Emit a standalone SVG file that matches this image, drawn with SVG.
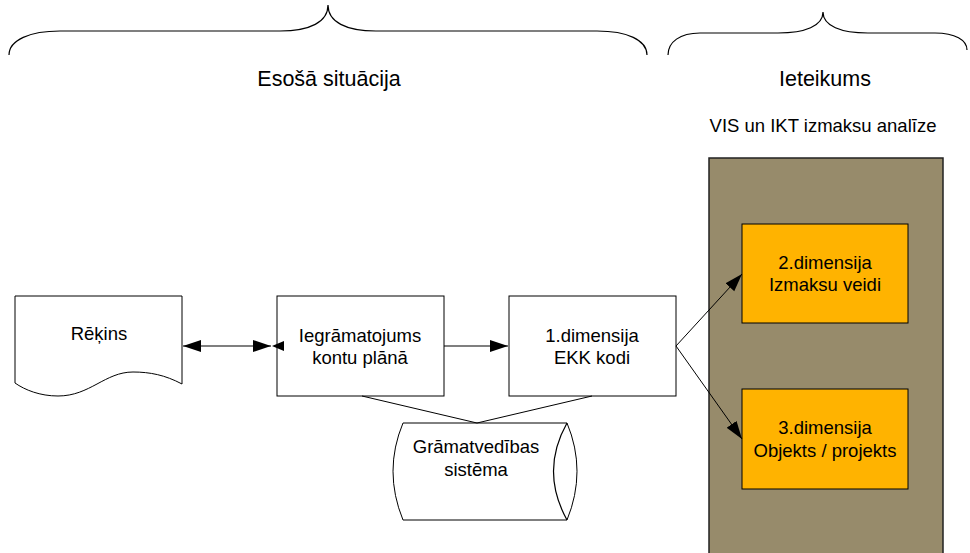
<svg xmlns="http://www.w3.org/2000/svg" width="970" height="553" viewBox="0 0 970 553">
<style>
text{font-family:"Liberation Sans",Arial,sans-serif;fill:#000;text-anchor:middle}
.t{font-size:21.5px}
.s{font-size:18.5px}
.n{font-size:18.5px}
.ln{fill:none;stroke:#000;stroke-width:1.2}
.box{fill:#fff;stroke:#000;stroke-width:1}
.org{fill:#FFB300;stroke:#000;stroke-width:1}
</style>
<defs>
<marker id="ah" markerUnits="userSpaceOnUse" markerWidth="20" markerHeight="14" refX="18" refY="6" orient="auto-start-reverse" viewBox="0 0 20 14">
<path d="M0,0 L18,6 L0,12 Z" fill="#000"/>
</marker>
</defs>
<rect width="970" height="553" fill="#fff"/>
<g id="brace-left">
<path class="ln" d="M9,55 C9,40 30,31 60,31 L280,31 C310,31 328,22 328,5 C328,22 346,31 376,31 L597,31 C627,31 647,40 647,55"/>
<text class="t" x="329" y="86">Esošā situācija</text>
</g>
<g id="brace-right">
<path class="ln" d="M668,55 C668,42 680,33 700,33 L778,33 C805,33 823,26 823,12 C823,26 841,33 868,33 L935,33 C955,33 967,40 967,50"/>
<text class="t" x="825" y="86">Ieteikums</text>
<text class="s" x="823" y="132">VIS un IKT izmaksu analīze</text>
</g>
<g id="panel">
<rect x="709" y="158" width="234" height="400" fill="#978B6B" stroke="#222" stroke-width="1.5"/>
</g>
<g id="rekins">
<path class="box" d="M15,296 H182 V384 C165,375 150,372 133,372 C105,372 90,396 58,396 C40,396 25,390 15,383 Z"/>
<text class="n" x="99" y="340">Rēķins</text>
</g>
<g id="iegramatojums">
<rect class="box" x="277" y="296" width="167" height="100"/>
<text class="n" x="360" y="342">Iegrāmatojums</text>
<text class="n" x="360" y="364">kontu plānā</text>
</g>
<g id="dim1">
<rect class="box" x="509" y="296" width="167" height="100"/>
<text class="n" x="592" y="342">1.dimensija</text>
<text class="n" x="592" y="364">EKK kodi</text>
</g>
<g id="gramatvedibas">
<path class="box" d="M403,423 H567 Q587,471 567,520 H403 Q383,471 403,423 Z"/>
<path class="ln" stroke-width="1" d="M567,423 Q540,471 567,520"/>
<text class="n" x="476" y="453">Grāmatvedības</text>
<text class="n" x="476" y="476">sistēma</text>
</g>
<g id="dim2">
<rect class="org" x="742" y="224" width="166" height="99"/>
<text class="n" x="825" y="269">2.dimensija</text>
<text class="n" x="825" y="291">Izmaksu veidi</text>
</g>
<g id="dim3">
<rect class="org" x="742" y="389" width="166" height="100"/>
<text class="n" x="825" y="434">3.dimensija</text>
<text class="n" x="825" y="457">Objekts / projekts</text>
</g>
<g id="connectors">
<line x1="183" y1="346" x2="271" y2="346" stroke="#000" stroke-width="1.2" marker-start="url(#ah)" marker-end="url(#ah)"/>
<polygon points="272,346 284,341 284,351" fill="#000"/>
<line x1="444" y1="346" x2="508" y2="346" stroke="#000" stroke-width="1.2" marker-end="url(#ah)"/>
<line x1="676" y1="346" x2="742" y2="274" stroke="#000" stroke-width="1" marker-end="url(#ah)"/>
<line x1="676" y1="346" x2="742" y2="439" stroke="#000" stroke-width="1" marker-end="url(#ah)"/>
<polyline points="362,396 477,423 592,396" fill="none" stroke="#000" stroke-width="1"/>
</g>
</svg>
